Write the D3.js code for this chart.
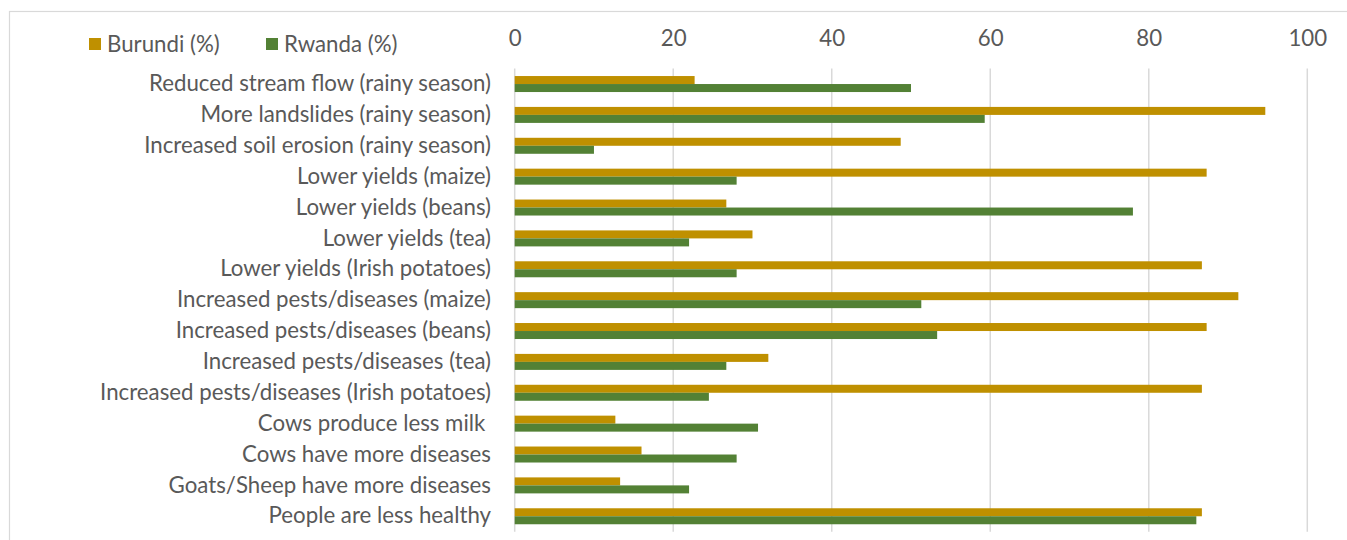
<!DOCTYPE html>
<html><head><meta charset="utf-8">
<script src="https://cdn.jsdelivr.net/npm/d3@7"></script>
<style>body{margin:0;background:#fff}svg{display:block}</style>
</head><body>
<svg id="chart" width="1347" height="540"></svg>
<script>
const categories = [
  "Reduced stream flow (rainy season)",
  "More landslides (rainy season)",
  "Increased soil erosion (rainy season)",
  "Lower yields (maize)",
  "Lower yields (beans)",
  "Lower yields (tea)",
  "Lower yields (Irish potatoes)",
  "Increased pests/diseases (maize)",
  "Increased pests/diseases (beans)",
  "Increased pests/diseases (tea)",
  "Increased pests/diseases (Irish potatoes)",
  "Cows produce less milk ",
  "Cows have more diseases",
  "Goats/Sheep have more diseases",
  "People are less healthy"
];
const burundi = [22.7, 94.7, 48.7, 87.3, 26.7, 30.0, 86.7, 91.3, 87.3, 32.0, 86.7, 12.7, 16.0, 13.3, 86.7];
const rwanda  = [50.0, 59.3, 10.0, 28.0, 78.0, 22.0, 28.0, 51.3, 53.3, 26.7, 24.5, 30.7, 28.0, 22.0, 86.0];
const seriesNames = ["Burundi (%)", "Rwanda (%)"];
const seriesColors = ["#BF9000", "#538135"];
const xTicks = [0, 20, 40, 60, 80, 100];

const svg = d3.select("#chart");
const font = "Lato, 'Open Sans', sans-serif";
const textColor = "#595959";

// frame
svg.append("rect").attr("x", 9.5).attr("y", 11.5).attr("width", 1400).attr("height", 600)
  .attr("fill", "none").attr("stroke", "#d9d9d9").attr("stroke-width", 1.2);

const x = d3.scaleLinear().domain([0, 100]).range([514.7, 1307.3]);
const y = d3.scaleBand().domain(categories).range([68.6, 531.7]).paddingInner(0.482).paddingOuter(0.241);
const ySub = d3.scaleBand().domain([0, 1]).range([0, y.bandwidth()]);

// gridlines
svg.append("g").selectAll("line").data(xTicks).join("line")
  .attr("x1", d => x(d)).attr("x2", d => x(d))
  .attr("y1", 68.6).attr("y2", 531.7)
  .attr("stroke", "#d9d9d9").attr("stroke-width", 1.5);

// tick labels (top axis)
const xAxis = d3.axisTop(x).tickValues(xTicks).tickSize(0).tickPadding(0);
const gx = svg.append("g").attr("transform", "translate(0,46)").call(xAxis);
gx.select(".domain").remove();
gx.selectAll("text").attr("fill", textColor).attr("font-family", font).attr("font-size", 19);

// bars
const series = [burundi, rwanda];
series.forEach((vals, s) => {
  svg.append("g").selectAll("rect").data(vals).join("rect")
    .attr("x", x(0))
    .attr("y", (d, i) => y(categories[i]) + ySub(s))
    .attr("width", d => x(d) - x(0))
    .attr("height", ySub.bandwidth())
    .attr("fill", seriesColors[s]);
});

// category labels
const yAxis = d3.axisLeft(y).tickSize(0).tickPadding(0);
const gy = svg.append("g").attr("transform", "translate(491,0)").call(yAxis);
gy.select(".domain").remove();
gy.selectAll("text").attr("fill", textColor).attr("font-family", font).attr("font-size", 19)
  .style("white-space", "pre").attr("xml:space", "preserve");
// fit font size so the longest label spans ~391px as in the reference
let maxW = 0;
gy.selectAll("text").each(function(){ maxW = Math.max(maxW, this.getComputedTextLength()); });
const fs = 19 * 391 / maxW;
gy.selectAll("text").attr("font-size", fs);
gx.selectAll("text").attr("font-size", fs);

// legend
const legendX = [89, 266];
const lg = svg.append("g");
seriesNames.forEach((n, i) => {
  lg.append("rect").attr("x", legendX[i]).attr("y", 38).attr("width", 12).attr("height", 12).attr("fill", seriesColors[i]);
  lg.append("text").attr("x", legendX[i] + 18).attr("y", 44).attr("dy", "0.35em")
    .attr("fill", textColor).attr("font-family", font).attr("font-size", fs).text(n);
});
</script>
</body></html>
